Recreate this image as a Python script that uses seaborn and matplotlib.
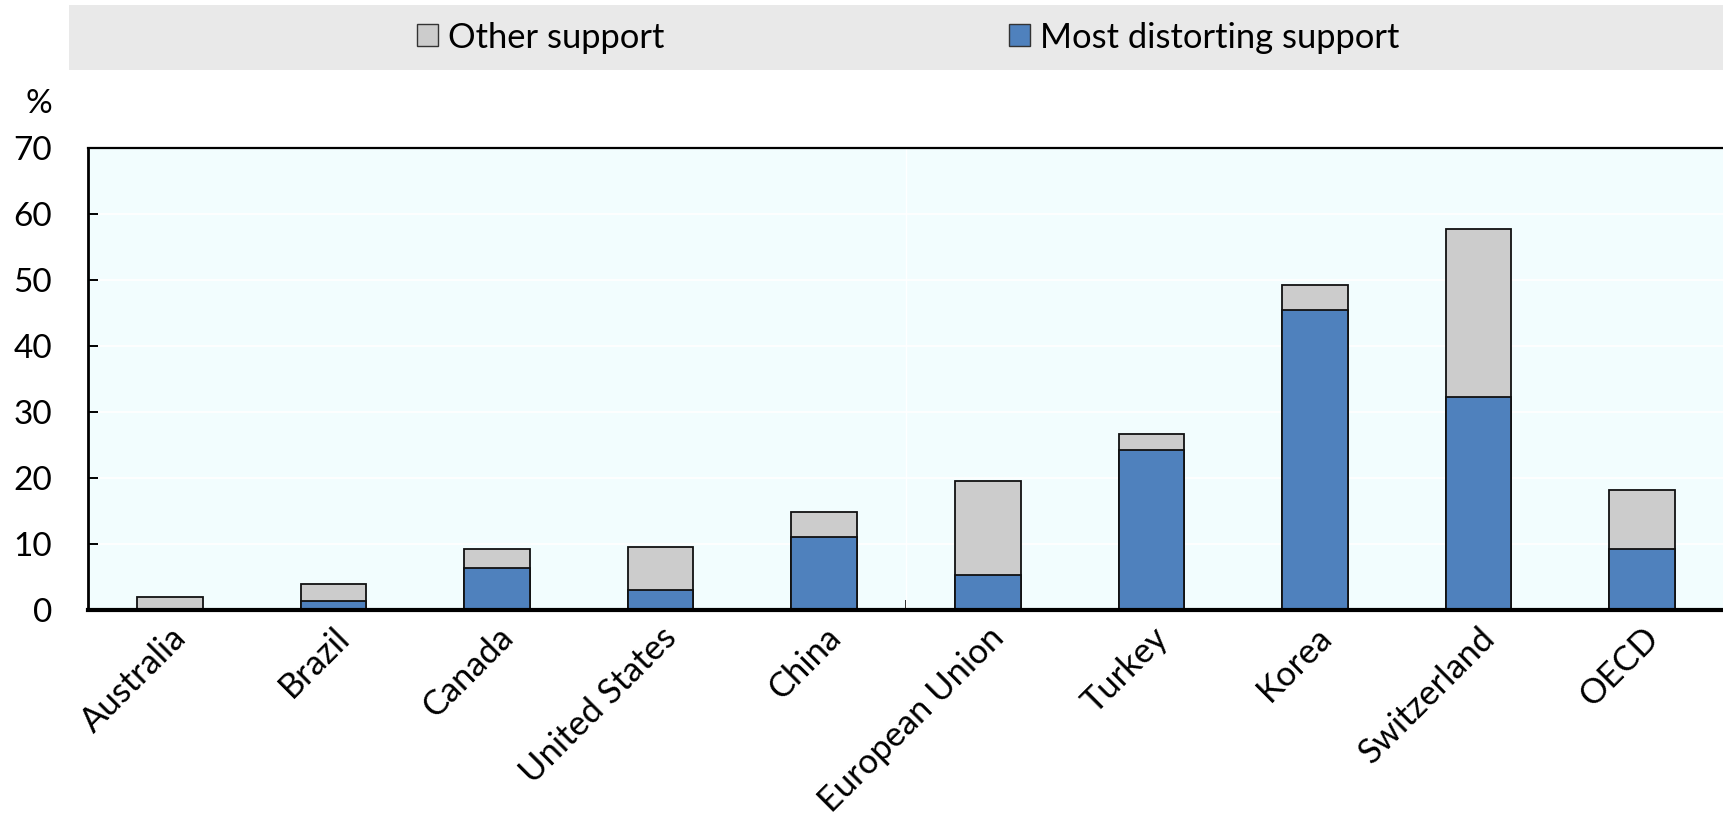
import matplotlib
matplotlib.use("Agg")
import matplotlib.pyplot as plt
from matplotlib.patches import Rectangle, Patch
import seaborn as sns
import pandas as pd

# Producer support by category, % of gross farm receipts
countries = ["Australia", "Brazil", "Canada", "United States", "China",
             "European Union", "Turkey", "Korea", "Switzerland", "OECD"]
most_distorting = [0.0, 1.4, 6.3, 3.1, 11.1, 5.3, 24.3, 45.4, 32.2, 9.3]
other_support = [1.9, 2.5, 3.0, 6.4, 3.8, 14.3, 2.3, 3.9, 25.5, 8.9]
y_ticks = [0, 10, 20, 30, 40, 50, 60, 70]

totals = [m + o for m, o in zip(most_distorting, other_support)]
df = pd.DataFrame({"country": countries, "most": most_distorting, "total": totals})

sns.set_theme(style="white")
plt.rcParams["font.family"] = ["Lato", "DejaVu Sans"]

BLUE = "#4F81BD"
GREY = "#CCCCCC"
W, H = 1724, 819

fig = plt.figure(figsize=(W / 100, H / 100), dpi=100)
ax = fig.add_axes([88 / W, 1 - 610 / H, 1 - 88 / W, (610 - 148) / H])
ax.set_facecolor("#F2FDFE")

# total height in grey, most distorting part drawn over it in blue
sns.barplot(data=df, x="country", y="total", color=GREY, saturation=1,
            edgecolor="#111111", linewidth=1.3, width=0.4, ax=ax, zorder=3)
sns.barplot(data=df, x="country", y="most", color=BLUE, saturation=1,
            edgecolor="#111111", linewidth=1.3, width=0.4, ax=ax, zorder=4)

ax.set_xlim(-0.5, len(countries) - 0.5)
ax.set_ylim(0, 70)
ax.set_yticks(y_ticks)
ax.set_xlabel("")
ax.set_ylabel("")

ax.yaxis.grid(True, color="white", linewidth=1.3)
ax.axvline(4.5, color="white", linewidth=1.0, zorder=1)
ax.set_axisbelow(True)

for side in ("top", "left", "bottom"):
    ax.spines[side].set_visible(True)
    ax.spines[side].set_color("black")
ax.spines["right"].set_visible(False)
ax.spines["top"].set_linewidth(1.6)
ax.spines["left"].set_linewidth(2.0)
ax.spines["bottom"].set_linewidth(3.0)
ax.spines["bottom"].set_zorder(6)

ax.tick_params(axis="y", direction="in", length=7.5, width=1.4, color="black",
               labelsize=24, pad=26, left=True, labelcolor="black")
ax.tick_params(axis="x", which="major", length=0, labelsize=24.8, pad=8,
               labelcolor="black")
ax.set_xticks([4.5], minor=True)
ax.tick_params(axis="x", which="minor", direction="in", length=7.5, width=1.4,
               color="black", bottom=True)
plt.setp(ax.get_xticklabels(), rotation=45, ha="right", rotation_mode="anchor")

fig.text(52 / W, 1 - 104 / H, "%", ha="right", va="center", fontsize=24,
         color="black")

# legend band across the top
fig.add_artist(Rectangle((69 / W, 1 - 70 / H), 1 - 69 / W, 64.5 / H,
                         transform=fig.transFigure, facecolor="#E9E9E9",
                         edgecolor="none", zorder=0))
handles = [Patch(facecolor=GREY, edgecolor="#333333", linewidth=1.0),
           Patch(facecolor=BLUE, edgecolor="#333333", linewidth=1.0)]
fig.legend(handles, ["Other support", "Most distorting support"], ncol=2,
           loc="center", bbox_to_anchor=(0.527, 1 - 37.5 / H), frameon=False,
           fontsize=24.8, handlelength=0.6, handleheight=0.6, handletextpad=0.3,
           columnspacing=10.0, labelcolor="black")

fig.savefig("out.png", dpi=100)
